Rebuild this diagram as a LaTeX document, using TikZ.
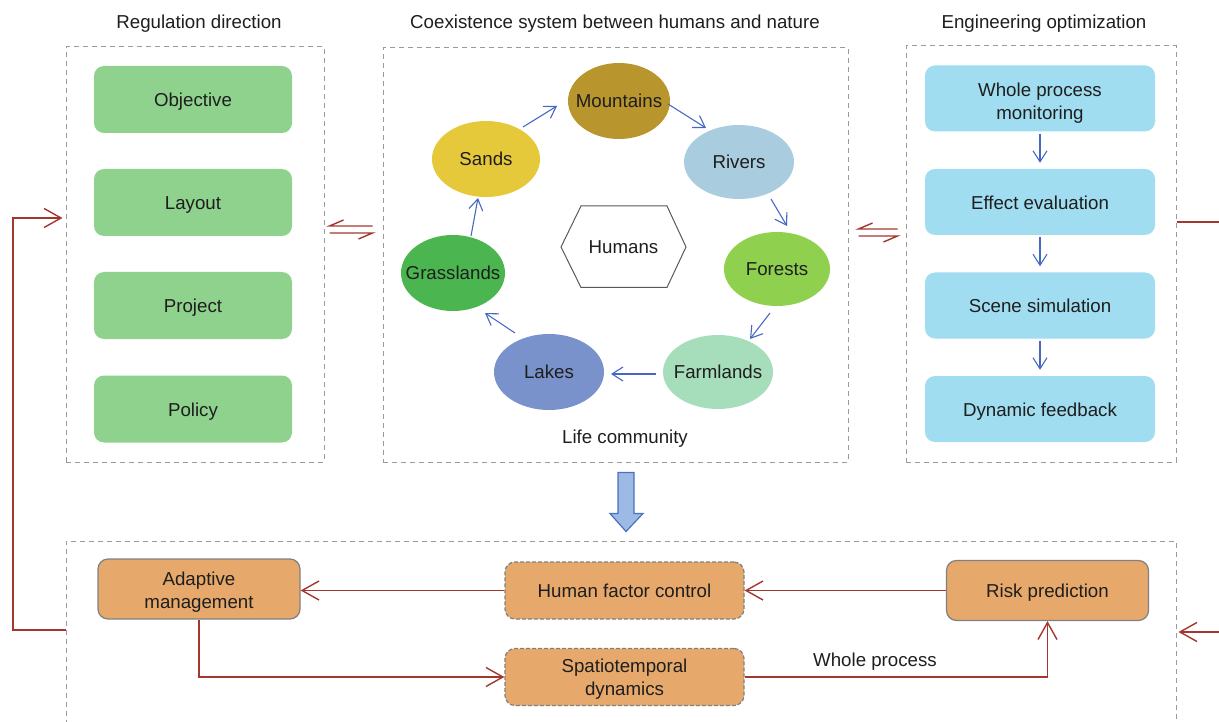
\documentclass[tikz,border=0pt]{standalone}
\usepackage{fontspec}
\setmainfont{Liberation Sans}
\usetikzlibrary{arrows.meta,shapes.geometric,calc}

\definecolor{dashgray}{HTML}{9A9A9A}
\definecolor{greenfill}{HTML}{8FD28E}
\definecolor{bluefill}{HTML}{A0DDF0}
\definecolor{orangefill}{HTML}{E6A96B}
\definecolor{boxgray}{HTML}{808080}
\definecolor{linkred}{HTML}{A3362F}
\definecolor{flowblue}{HTML}{4468C4}
\definecolor{txt}{HTML}{1E1E1E}
\definecolor{cMountains}{HTML}{B8952D}
\definecolor{cRivers}{HTML}{A9CDDF}
\definecolor{cForests}{HTML}{8FD14F}
\definecolor{cFarmlands}{HTML}{A6DDBA}
\definecolor{cLakes}{HTML}{7A92CC}
\definecolor{cGrasslands}{HTML}{4BB650}
\definecolor{cSands}{HTML}{E5C93A}
\definecolor{bigarrowfill}{HTML}{9DBAE4}
\definecolor{bigarrowedge}{HTML}{4A70C0}

% two centred lines, dropped a little inside their box
\newcommand\twolines[3]{\raisebox{0pt}[\dimexpr\height+#1\relax][\depth]{\begin{tabular}{@{}c@{}}#2\\#3\end{tabular}}}
% label of a fixed-size ellipse
\newcommand\ecolabel[1]{\makebox[0pt]{#1}}

\begin{document}
\begin{tikzpicture}[x=1pt,y=-1pt,
  font=\fontsize{18.7}{23}\selectfont, text=txt,
  panel/.style={draw=dashgray, dash pattern=on 5pt off 4pt, line width=1pt, inner sep=0},
  oneline/.style={text height=17.5pt, text depth=3pt},
  gbox/.style={fill=greenfill, rounded corners=10pt, minimum width=198pt, minimum height=67pt, inner sep=0, oneline},
  bbox/.style={fill=bluefill, rounded corners=10pt, minimum width=230pt, minimum height=66pt, inner sep=0},
  obox/.style={fill=orangefill, draw=boxgray, line width=1.2pt, rounded corners=10pt, minimum width=202pt, minimum height=60pt, inner sep=0},
  odash/.style={obox, dash pattern=on 4pt off 2pt, minimum width=239pt, minimum height=57pt},
  eco/.style={ellipse, inner sep=0},
  flow/.style={draw=flowblue, line width=1.1pt, -{Straight Barb[length=11pt,width=14pt]}},
  link/.style={draw=linkred, line width=1.4pt},
  linkarrow/.style={link, -{Straight Barb[length=17pt,width=19pt]}},
  hexline/.style={draw=black!65, line width=1pt}
]
\useasboundingbox (0,0) rectangle (1219,722);
\clip (0,0) rectangle (1219,722);

% titles
\node (t1) at (199,23.5) {Regulation direction};
\node (t2) at (615,23.5) {Coexistence system between humans and nature};
\node (t3) at (1044,23.5) {Engineering optimization};

% dashed panels
\node[panel, minimum width=258pt, minimum height=415pt] (lp) at (195,254.5) {};
\node[panel, minimum width=465pt, minimum height=414pt] (mp) at (615.5,255) {};
\node[panel, minimum width=270pt, minimum height=416pt] (rp) at (1041,254) {};
\node[panel, minimum width=1110pt, minimum height=220pt] (bp) at (621,651) {};

% regulation direction
\node[gbox] (g1) at (193,99.5) {Objective};
\node[gbox] (g2) at (193,202.5) {Layout};
\node[gbox] (g3) at (193,305.5) {Project};
\node[gbox] (g4) at (193,409) {Policy};

% engineering optimization
\node[bbox] (b1) at (1040,98.5) {\twolines{9pt}{Whole process}{monitoring}};
\node[bbox, oneline] (b2) at (1040,202) {Effect evaluation};
\node[bbox, oneline] (b3) at (1040,305.5) {Scene simulation};
\node[bbox, oneline] (b4) at (1040,409) {Dynamic feedback};
\draw[flow, shorten <=2pt, shorten >=6pt] (b1.south) -- (b2.north);
\draw[flow, shorten <=2pt, shorten >=6pt] (b2.south) -- (b3.north);
\draw[flow, shorten <=2pt, shorten >=6pt] (b3.south) -- (b4.north);

% life community
\node[eco, fill=cMountains, minimum width=102pt, minimum height=76pt] (mountains) at (619,101) {\ecolabel{Mountains}};
\node[eco, fill=cRivers, minimum width=110pt, minimum height=74pt] (rivers) at (739,162) {\ecolabel{Rivers}};
\node[eco, fill=cForests, minimum width=106pt, minimum height=74pt] (forests) at (777,269) {\ecolabel{Forests}};
\node[eco, fill=cFarmlands, minimum width=110pt, minimum height=74pt] (farmlands) at (718,372) {\ecolabel{Farmlands}};
\node[eco, fill=cLakes, minimum width=110pt, minimum height=76pt] (lakes) at (549,372) {\ecolabel{Lakes}};
\node[eco, fill=cGrasslands, minimum width=104pt, minimum height=76pt] (grasslands) at (453,273) {\ecolabel{Grasslands}};
\node[eco, fill=cSands, minimum width=108pt, minimum height=76pt] (sands) at (486,159) {\ecolabel{Sands}};

\draw[flow] ($(sands)+(37,-32)$) -- ($(mountains)+(-62,5)$);
\draw[flow] ($(mountains)+(49,3)$) -- ($(rivers)+(-33,-34)$);
\draw[flow] ($(rivers)+(32,37)$) -- ($(forests)+(10,-43)$);
\draw[flow] ($(forests)+(-7,44)$) -- ($(farmlands)+(32,-33)$);
\draw[flow] ($(farmlands)+(-62,2)$) -- ($(lakes)+(62,2)$);
\draw[flow] ($(lakes)+(-34,-39)$) -- ($(grasslands)+(32,40)$);
\draw[flow] ($(grasslands)+(18,-37)$) -- ($(sands)+(-8,39)$);

\node (humans) at (623.5,247) {Humans};
\draw[hexline] ($(humans)+(-62.5,0)$) -- ++(20,-41) -- ++(86,0) -- ++(19,41) -- ++(-19,40.5) -- ++(-86,0) -- cycle;

\node (life) at (625,438.5) {Life community};

% exchange between panels
\draw[link] ($(mp.west |- 0,226)+(-10,0)$) -- ($(lp.east |- 0,226)+(5,0)$) -- ++(14,-6);
\draw[link] ($(lp.east |- 0,233)+(5,0)$) -- ($(mp.west |- 0,233)+(-10,0)$) -- ++(-14,6);
\draw[link] ($(rp.west |- 0,229)+(-8,0)$) -- ($(mp.east |- 0,229)+(10,0)$) -- ++(14,-6);
\draw[link] ($(mp.east |- 0,236)+(10,0)$) -- ($(rp.west |- 0,236)+(-8,0)$) -- ++(-14,6);

% block arrow down
\coordinate (ba) at ($(mp.south)+(10.5,10)$);
\draw[fill=bigarrowfill, draw=bigarrowedge, line width=1.2pt]
  ($(ba)+(-8,0)$) -- ++(16,0) -- ++(0,41) -- ++(9,0) -- ($(ba)+(0,59)$) -- ($(ba)+(-16,41)$) -- ++(8,0) -- cycle;

% bottom panel
\node[obox] (adapt) at (199,589) {\twolines{7pt}{Adaptive}{management}};
\node[odash, oneline] (human) at (624.5,590.5) {Human factor control};
\node[obox, oneline] (risk) at (1047.5,590.5) {Risk prediction};
\node[odash] (spatio) at (624.5,677) {\twolines{4pt}{Spatiotemporal}{dynamics}};

\draw[linkarrow] (risk.west) -- (human.east);
\draw[linkarrow] (human.west) -- (adapt.east |- human.west);
\draw[linkarrow] (adapt.south) |- (spatio.west);
\draw[linkarrow] (spatio.east) -| (risk.south);
\node (wp) at (875,661.5) {Whole process};

% feedback loops
\coordinate (lb) at (13,630);
\coordinate (lt) at (13,218);
\draw[linkarrow] (bp.west |- lb) -- (lb) -- (lt) -- ($(lp.west |- lt)+(-3,0)$);
\coordinate (re) at (1219,222);
\draw[link] (rp.east |- re) -- (re);
\coordinate (rb) at (1219,632);
\draw[linkarrow] (rb) -- ($(bp.east |- rb)+(2,0)$);
\end{tikzpicture}
\end{document}
